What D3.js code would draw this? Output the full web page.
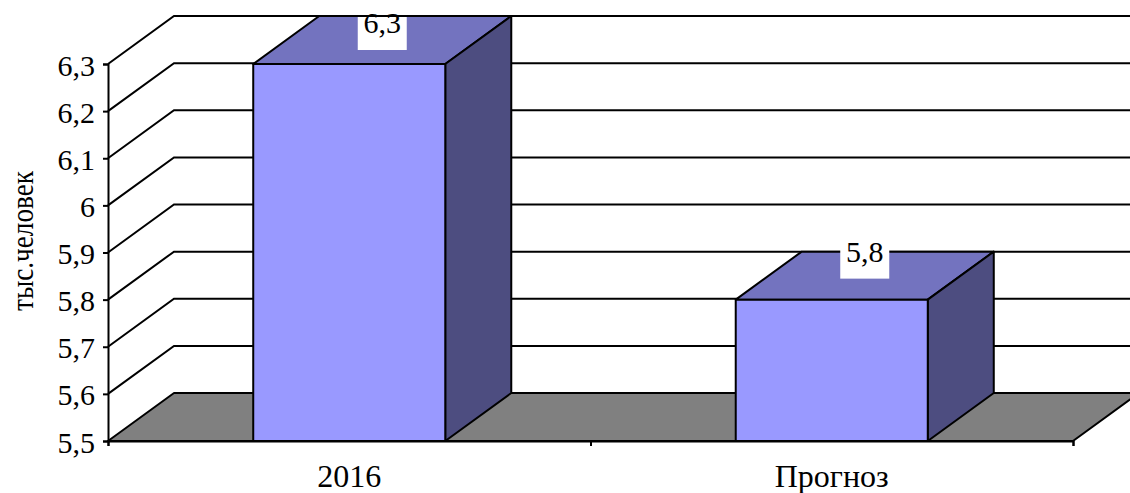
<!DOCTYPE html>
<html>
<head>
<meta charset="utf-8">
<script src="https://cdn.jsdelivr.net/npm/d3@7"></script>
<style>
  body { margin: 0; background: #fff; }
  svg { display: block; }
</style>
</head>
<body>
<svg id="chart" width="1130" height="493"></svg>
<script>
// data
const categories = ['2016', 'Прогноз'];
const values = [6.3, 5.8];
const yTicks = [5.5, 5.6, 5.7, 5.8, 5.9, 6.0, 6.1, 6.2, 6.3];
const yTitle = 'тыс.человек';

// layout
const plotLeft = 108, plotRight = 1073, plotBottom = 441, plotTop = 64;
const dx = 66, dy = -48;          // depth of the 3d box
const serif = "'Liberation Serif', 'Times New Roman', Tinos, 'DejaVu Serif', serif";

const svg = d3.select('#chart')
  .attr('font-family', serif);

const y = d3.scaleLinear().domain([5.5, 6.3]).range([plotBottom, plotTop]);
const x = d3.scaleBand()
  .domain(categories)
  .range([plotLeft, plotRight])
  .paddingInner(0.602)
  .paddingOuter(0.301);

const fmt = v => d3.format('.1f')(v).replace('.', ',').replace(',0', '');
const pts = arr => arr.map(p => p.join(',')).join(' ');

// floor
svg.append('polygon')
  .attr('points', pts([[plotLeft, plotBottom], [plotRight, plotBottom], [plotRight + dx, plotBottom + dy], [plotLeft + dx, plotBottom + dy]]))
  .attr('fill', '#808080')
  .attr('stroke', '#000')
  .attr('stroke-width', 2)
  .attr('stroke-linejoin', 'round');

// gridlines: side wall diagonal + back wall
svg.append('g')
  .selectAll('polyline')
  .data(yTicks.filter(t => t > 5.5))
  .join('polyline')
  .attr('points', d => pts([[plotLeft, y(d)], [plotLeft + dx, y(d) + dy], [plotRight + dx, y(d) + dy]]))
  .attr('fill', 'none')
  .attr('stroke', '#000')
  .attr('stroke-width', 2);

// bars
const bars = svg.append('g')
  .selectAll('g')
  .data(categories.map((c, i) => ({ c, v: values[i] })))
  .join('g');

const bw = x.bandwidth();

bars.append('polygon')   // top face
  .attr('points', d => {
    const x0 = x(d.c), yt = y(d.v);
    return pts([[x0, yt], [x0 + bw, yt], [x0 + bw + dx, yt + dy], [x0 + dx, yt + dy]]);
  })
  .attr('fill', '#7373BF');

bars.append('polygon')   // side face
  .attr('points', d => {
    const x1 = x(d.c) + bw, yt = y(d.v);
    return pts([[x1, yt], [x1 + dx, yt + dy], [x1 + dx, plotBottom + dy], [x1, plotBottom]]);
  })
  .attr('fill', '#4D4D80');

bars.append('rect')      // front face
  .attr('x', d => x(d.c))
  .attr('y', d => y(d.v))
  .attr('width', bw)
  .attr('height', d => plotBottom - y(d.v))
  .attr('fill', '#9999FF');

bars.selectAll('polygon, rect')
  .attr('stroke', '#000')
  .attr('stroke-width', 2)
  .attr('stroke-linejoin', 'round');

// data labels
bars.each(function (d) {
  const g = d3.select(this);
  const cx = x(d.c) + bw / 2 + dx / 2;
  const mid = y(d.v) + dy / 2;
  const base = Math.max(mid - 14, 33);
  const boxTop = Math.max(base - 24, 17);
  g.append('rect')
    .attr('x', cx - 24.5)
    .attr('y', boxTop)
    .attr('width', 49)
    .attr('height', base + 17 - boxTop)
    .attr('fill', '#fff');
  g.append('text')
    .attr('x', cx)
    .attr('y', base)
    .attr('text-anchor', 'middle')
    .attr('font-size', 30)
    .text(fmt(d.v));
});

// y axis
const yAxis = d3.axisLeft(y)
  .tickValues(yTicks)
  .tickSize(5)
  .tickFormat('');
svg.append('g')
  .attr('transform', `translate(${plotLeft},0)`)
  .call(yAxis)
  .call(g => g.selectAll('path, line').attr('stroke', '#000').attr('stroke-width', 2));

svg.append('g')
  .selectAll('text')
  .data(yTicks)
  .join('text')
  .attr('x', 95)
  .attr('y', d => y(d) + 11.5)
  .attr('text-anchor', 'end')
  .attr('font-size', 30)
  .text(fmt);

// x axis
const xAxis = d3.axisBottom(d3.scaleLinear().domain([0, categories.length]).range([plotLeft, plotRight]))
  .ticks(categories.length)
  .tickSize(5)
  .tickSizeOuter(5)
  .tickFormat('');
svg.append('g')
  .attr('transform', `translate(0,${plotBottom})`)
  .call(xAxis)
  .call(g => g.selectAll('path, line').attr('stroke', '#000').attr('stroke-width', 2));

svg.append('g')
  .selectAll('text')
  .data(categories)
  .join('text')
  .attr('x', d => x(d) + bw / 2)
  .attr('y', 487)
  .attr('text-anchor', 'middle')
  .attr('font-size', 32)
  .text(d => d);

// y title
svg.append('text')
  .attr('transform', 'translate(33,241) scale(1,0.85) rotate(-90)')
  .attr('text-anchor', 'middle')
  .attr('font-size', 32)
  .text(yTitle);

svg.selectAll('text').attr('fill', '#000').attr('font-family', serif);
</script>
</body>
</html>
